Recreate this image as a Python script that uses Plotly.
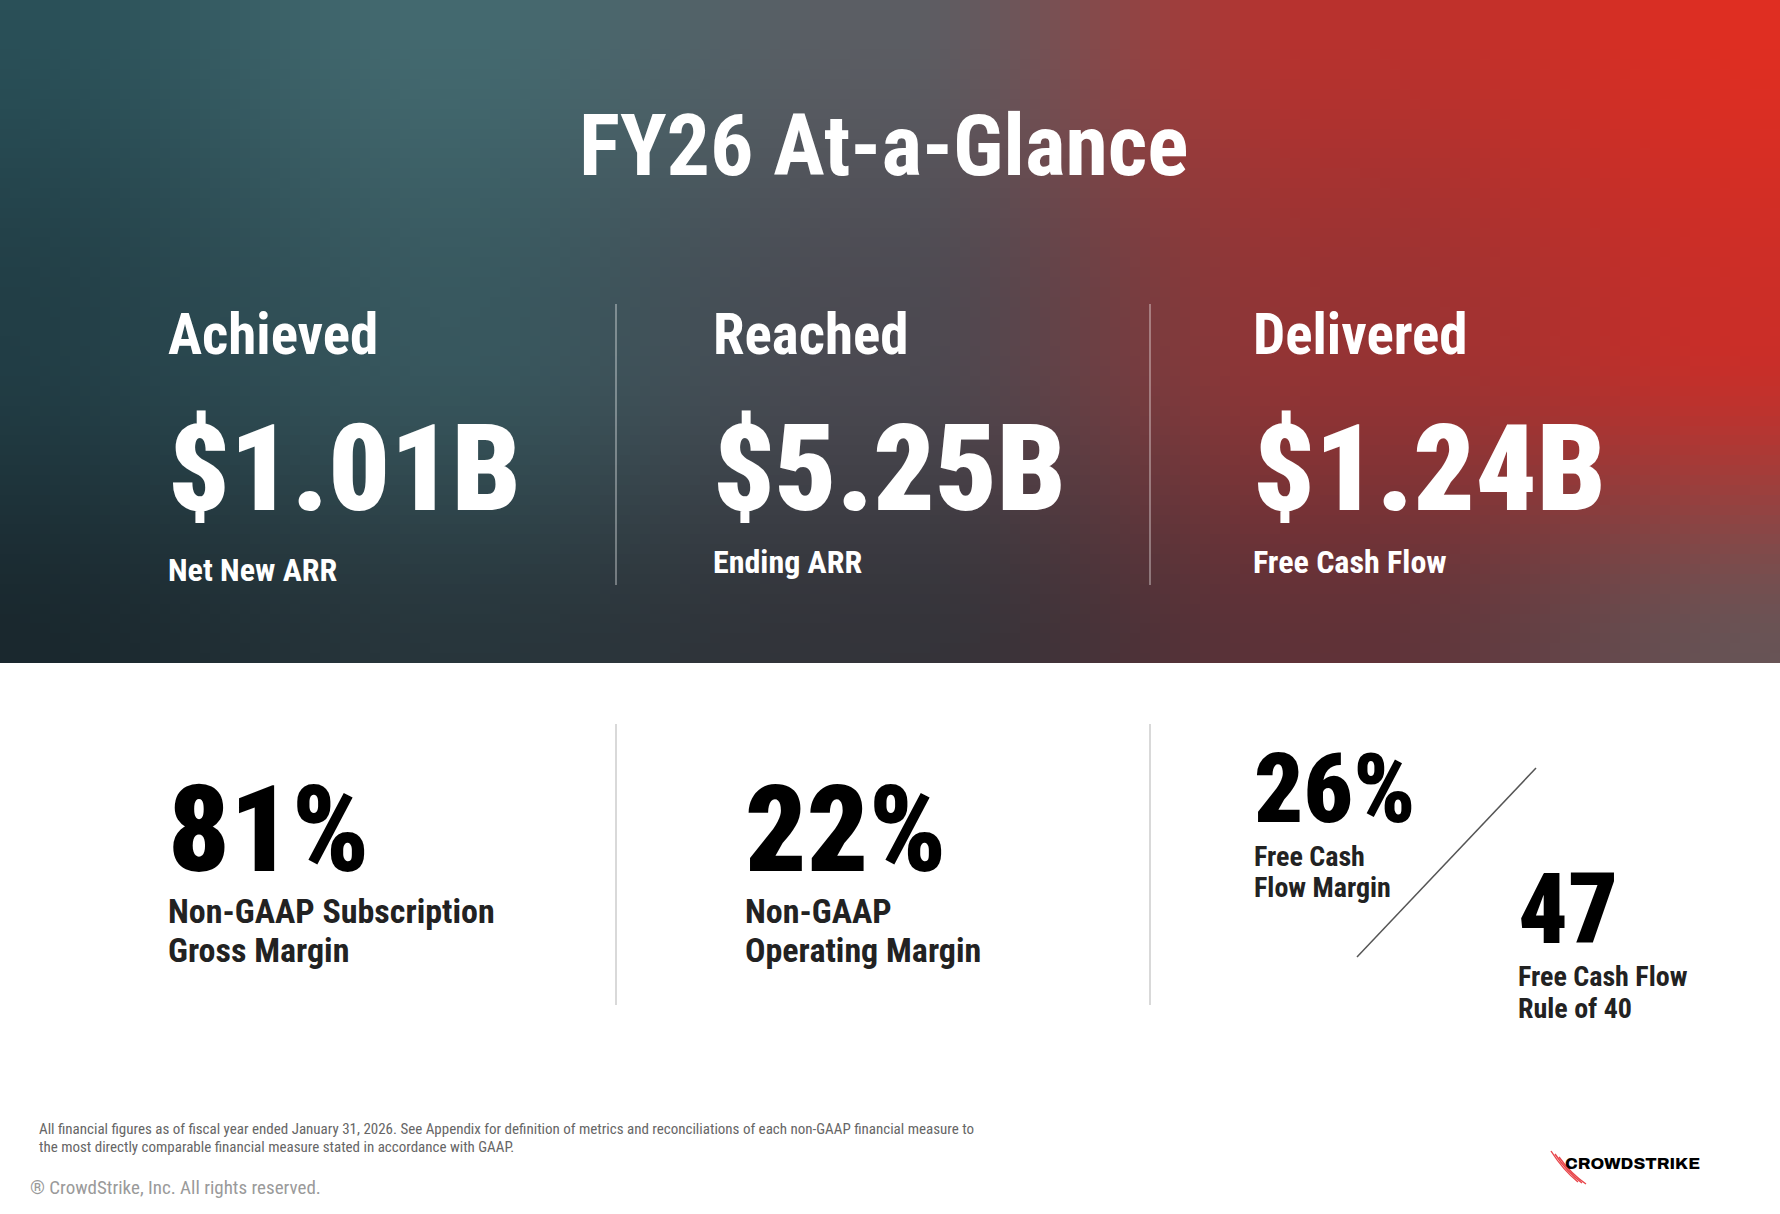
import numpy as np
import plotly.graph_objects as go

W, H = 1780, 1214
BAND_H = 663

# --- content -------------------------------------------------------------
title = "FY26 At-a-Glance"

top_headers = ["Achieved", "Reached", "Delivered"]
top_values = ["$1.01B", "$5.25B", "$1.24B"]
top_labels = ["Net New ARR", "Ending ARR", "Free Cash Flow"]

bottom_values = ["81%", "22%"]
bottom_labels = [["Non-GAAP Subscription", "Gross Margin"],
                 ["Non-GAAP", "Operating Margin"]]

fcf_margin = "26%"
fcf_margin_label = ["Free Cash", "Flow Margin"]
rule_of_40 = "47"
rule_of_40_label = ["Free Cash Flow", "Rule of 40"]

footnote = ["All financial figures as of fiscal year ended January 31, 2026. See Appendix for definition of metrics and reconciliations of each non-GAAP financial measure to",
            "the most directly comparable financial measure stated in accordance with GAAP."]
copyright_txt = "® CrowdStrike, Inc. All rights reserved."
logo_txt = "CROWDSTRIKE"

# --- background gradient (control colours, bilinear + smooth) ------------
ctrl = np.array([
    [(42, 80, 88), (68, 106, 112), (92, 94, 100), (185, 50, 46), (224, 46, 34)],
    [(34, 62, 70), (56, 88, 95), (76, 74, 82), (150, 52, 52), (204, 46, 40)],
    [(26, 40, 46), (40, 54, 60), (52, 52, 58), (96, 50, 56), (104, 84, 86)],
], dtype=float)

nx, ny = 178, 67
gx = np.linspace(0, 1, nx) * (ctrl.shape[1] - 1)
gy = np.linspace(0, 1, ny) * (ctrl.shape[0] - 1)
ix = np.clip(gx.astype(int), 0, ctrl.shape[1] - 2)
iy = np.clip(gy.astype(int), 0, ctrl.shape[0] - 2)
fx = gx - ix
fy = gy - iy
fx = fx * fx * (3 - 2 * fx)
fy = fy * fy * (3 - 2 * fy)
c00 = ctrl[iy][:, ix]
c01 = ctrl[iy][:, ix + 1]
c10 = ctrl[iy + 1][:, ix]
c11 = ctrl[iy + 1][:, ix + 1]
FX = fx[None, :, None]
FY = fy[:, None, None]
img = (c00 * (1 - FX) * (1 - FY) + c01 * FX * (1 - FY)
       + c10 * (1 - FX) * FY + c11 * FX * FY)
img = np.clip(img, 0, 255).astype(np.uint8)

fig = go.Figure()
fig.add_trace(go.Image(z=img, x0=W / nx / 2, dx=W / nx,
                       y0=BAND_H / ny / 2, dy=BAND_H / ny,
                       zsmooth="fast", hoverinfo="skip"))

COND = "Roboto Condensed, Barlow Semi Condensed, sans-serif"
WIDE = "Archivo, Liberation Sans, sans-serif"

ann = []


def txt(x, baseline, s, size, color, family=COND, weight=700, xanchor="left"):
    # put the baseline of the text near `baseline`
    ann.append(dict(x=x, y=baseline - 0.35 * size, text=s, showarrow=False,
                    xanchor=xanchor, yanchor="middle", xref="x", yref="y",
                    font=dict(family=family, size=size, color=color, weight=weight)))


txt(884, 176, title, 86, "white", xanchor="center")

col_x = [166, 711, 1251]
sub_base = [581, 573, 573]
for i in range(3):
    txt(col_x[i], 354, top_headers[i], 57, "white")
    txt(col_x[i], 511, top_values[i], 121, "white", weight=900)
    txt(col_x[i], sub_base[i], top_labels[i], 32, "white")

bot_x = [166, 743]
for i in range(2):
    txt(bot_x[i], 872, bottom_values[i], 121, "black", weight=900)
    txt(bot_x[i], 923, bottom_labels[i][0], 34, "#222222")
    txt(bot_x[i], 962, bottom_labels[i][1], 34, "#222222")

txt(1252, 823, fcf_margin, 97, "black", weight=900)
txt(1252, 866, fcf_margin_label[0], 28, "#222222")
txt(1252, 897, fcf_margin_label[1], 28, "#222222")
txt(1516, 944, rule_of_40, 98, "black", weight=900)
txt(1516, 986, rule_of_40_label[0], 28, "#222222")
txt(1516, 1018, rule_of_40_label[1], 28, "#222222")

txt(37, 1134, footnote[0], 15, "#666666", weight=400)
txt(37, 1152, footnote[1], 15, "#666666", weight=400)
txt(28, 1194, copyright_txt, 19, "#9a9a9a", weight=400)
txt(1563, 1169, logo_txt, 17, "black", family=WIDE, weight=800)

shapes = []
for x in [616, 1150]:
    shapes.append(dict(type="line", x0=x, x1=x, y0=304, y1=585, xref="x", yref="y",
                       line=dict(color="rgba(255,255,255,0.45)", width=1.5)))
    shapes.append(dict(type="line", x0=x, x1=x, y0=724, y1=1005, xref="x", yref="y",
                       line=dict(color="#cccccc", width=1.5)))
shapes.append(dict(type="line", x0=1536, y0=768, x1=1357, y1=957, xref="x", yref="y",
                   line=dict(color="#555555", width=1.5)))
# logo claw marks
for k in range(3):
    ox = k * 4
    shapes.append(dict(type="path", xref="x", yref="y",
                       path="M %d %d Q %d %d %d %d" % (1551 + ox, 1151 + k * 3,
                                                       1563 + ox, 1170 + k * 2,
                                                       1578 + ox, 1182 + k),
                       line=dict(color="#e8454a", width=1.4)))

fig.update_layout(
    width=W, height=H,
    margin=dict(l=0, r=0, t=0, b=0),
    paper_bgcolor="white", plot_bgcolor="white",
    xaxis=dict(range=[0, W], visible=False, showgrid=False, zeroline=False),
    yaxis=dict(range=[H, 0], visible=False, showgrid=False, zeroline=False),
    annotations=ann, shapes=shapes, showlegend=False,
)

fig.write_html("out.html", config={"displayModeBar": False},
               post_script="document.body.style.margin='0px';")
